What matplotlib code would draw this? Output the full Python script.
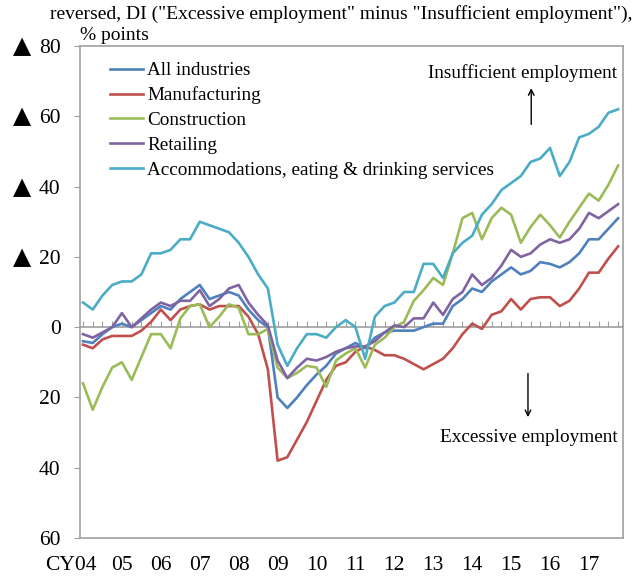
import matplotlib
matplotlib.use("Agg")
import matplotlib.pyplot as plt
import matplotlib.transforms as mtrans
import numpy as np

# ---- data (reversed DI, % points; quarterly 2004Q1 - 2017Q4) ----
years = ["CY04", "05", "06", "07", "08", "09", "10", "11", "12", "13", "14", "15", "16", "17"]
series_names = ["All industries", "Manufacturing", "Construction", "Retailing",
                "Accommodations, eating & drinking services"]

all_industries = [-4, -4.5, -2, 0, 1, 0, 2, 4, 6, 5, 8, 10, 12, 8, 9, 10, 9, 5, 2, 0,
                  -20, -23, -20, -16.5, -13.5, -11, -7.5, -6, -4.5, -6,
                  -3, -1.5, -1, -1, -1, 0, 1, 1, 6, 8,
                  11, 10, 13, 15, 17, 15, 16, 18.5, 18, 17,
                  18.5, 21, 25, 25, 28, 31]
manufacturing = [-5, -6, -3.5, -2.5, -2.5, -2.5, -1, 1.5, 5, 2, 5, 6, 6.5, 5, 6, 6, 6, 3, -2, -12,
                 -38, -37, -32, -27, -21, -15, -11, -10, -7, -5.5,
                 -6.5, -8, -8, -9, -10.5, -12, -10.5, -9, -6, -2,
                 1, -0.5, 3.5, 4.5, 8, 5, 8, 8.5, 8.5, 6,
                 7.5, 11, 15.5, 15.5, 19.5, 23]
construction = [-16, -23.5, -17, -11.5, -10, -15, -8.5, -2, -2, -6, 2.5, 6, 6.5, 0, 3, 6.5, 5.5, -2, -2, -0.5,
                -11.5, -14.5, -13, -11, -11.5, -17, -9.5, -7.5, -6, -11.5,
                -5, -3, 0, 1.5, 7.5, 10.5, 14, 12, 21, 31,
                32.5, 25, 31, 34, 32, 24, 28.5, 32, 29, 25.5,
                30, 34, 38, 36, 40.5, 46]
retailing = [-2, -3, -1.5, 0, 4, 0, 2.5, 5, 7, 6, 7.5, 7.5, 10.5, 6, 8, 11, 12, 7, 3.5, 0.5,
             -9.5, -14.5, -11.5, -9, -9.5, -8.5, -7, -6, -5.5, -5.5,
             -4, -1.5, 0.5, 0, 2.5, 2.5, 7, 3.5, 8, 10,
             15, 12, 14, 17.5, 22, 20, 21, 23.5, 25, 24,
             25, 28, 32.5, 31, 33, 35]
accommodations = [7, 5, 9, 12, 13, 13, 15, 21, 21, 22, 25, 25, 30, 29, 28, 27, 24, 20, 15, 11,
                  -5, -11, -6, -2, -2, -3, 0, 2, 0, -9,
                  3, 6, 7, 10, 10, 18, 18, 14, 21, 24,
                  26, 32, 35, 39, 41, 43, 47, 48, 51, 43,
                  47, 54, 55, 57, 61, 62]

y_ticks = [80, 60, 40, 20, 0, -20, -40, -60]
y_tick_labels = ["80", "60", "40", "20", "0", "20", "40", "60"]
neg_marker = "▲"   # Japanese-style minus sign shown before "insufficient" side values

colors = ["#4F81BD", "#C0504D", "#9BBB59", "#8064A2", "#4BACC6"]

plt.rcParams['font.family'] = ['Liberation Serif', 'DejaVu Sans']

fig = plt.figure(figsize=(6.41, 5.77), dpi=100)
ax = fig.add_axes([80 / 641, 1 - 538 / 577, (623 - 80) / 641, (538 - 46) / 577])

x = np.arange(len(all_industries))
data = [all_industries, manufacturing, construction, retailing, accommodations]
for name, vals, c in zip(series_names, data, colors):
    ax.plot(x, vals, color=c, lw=1.9, label=name)

ax.set_ylim(-60, 80)
ax.set_xlim(-0.31, 55.5)
ax.set_yticks(y_ticks)
ax.set_yticklabels(y_tick_labels, fontsize=15.5)
ax.tick_params(axis='y', length=4, width=0.8, color='#A0A0A0', pad=10)

# triangle marks for the reversed (positive-on-top) side
tri_trans = mtrans.blended_transform_factory(fig.transFigure, ax.transData)
for v in y_ticks:
    if v > 0:
        ax.text(22 / 641, v, neg_marker, transform=tri_trans, ha='center', va='center',
                fontsize=17, family='DejaVu Sans')

ax.set_xticks(np.arange(0, len(all_industries), 4))
ax.set_xticklabels(years, fontsize=15.5)
ax.tick_params(axis='x', length=0, pad=13)
first = ax.get_xticklabels()[0]
first.set_transform(first.get_transform() + mtrans.ScaledTranslation(-0.12, 0, fig.dpi_scale_trans))

for s in ax.spines.values():
    s.set_color('#A0A0A0')
    s.set_linewidth(1.2)

# zero line with quarterly ticks
sec = ax.secondary_xaxis(0, transform=ax.transData)
sec.set_xticks(x)
sec.set_xticklabels([])
sec.tick_params(axis='x', direction='in', length=4, width=0.8, color='#A0A0A0')
sec.spines['bottom'].set_color('#A0A0A0')
sec.spines['bottom'].set_linewidth(1.2)

leg = ax.legend(loc='upper left', bbox_to_anchor=(0.03, 0.995), frameon=False, fontsize=13.8,
                handlelength=1.75, handletextpad=0.2, labelspacing=0.38, borderaxespad=0.3)

fig.text(50 / 641, 1 - 14 / 577, 'reversed, DI ("Excessive employment" minus "Insufficient employment"),',
         fontsize=14, ha='left', va='center')
fig.text(80 / 641, 1 - 36 / 577, '% points', fontsize=14, ha='left', va='center')

ax.annotate('', xy=(0.831, 0.92), xycoords='axes fraction', xytext=(0.831, 0.835),
            arrowprops=dict(arrowstyle='->', color='black', lw=1.0))
ax.text(0.99, 0.945, 'Insufficient employment', transform=ax.transAxes, ha='right', va='center', fontsize=13.9)
ax.annotate('', xy=(0.825, 0.24), xycoords='axes fraction', xytext=(0.825, 0.34),
            arrowprops=dict(arrowstyle='->', color='black', lw=1.0))
ax.text(0.99, 0.205, 'Excessive employment', transform=ax.transAxes, ha='right', va='center', fontsize=13.9)

fig.savefig('out.png', dpi=100)
